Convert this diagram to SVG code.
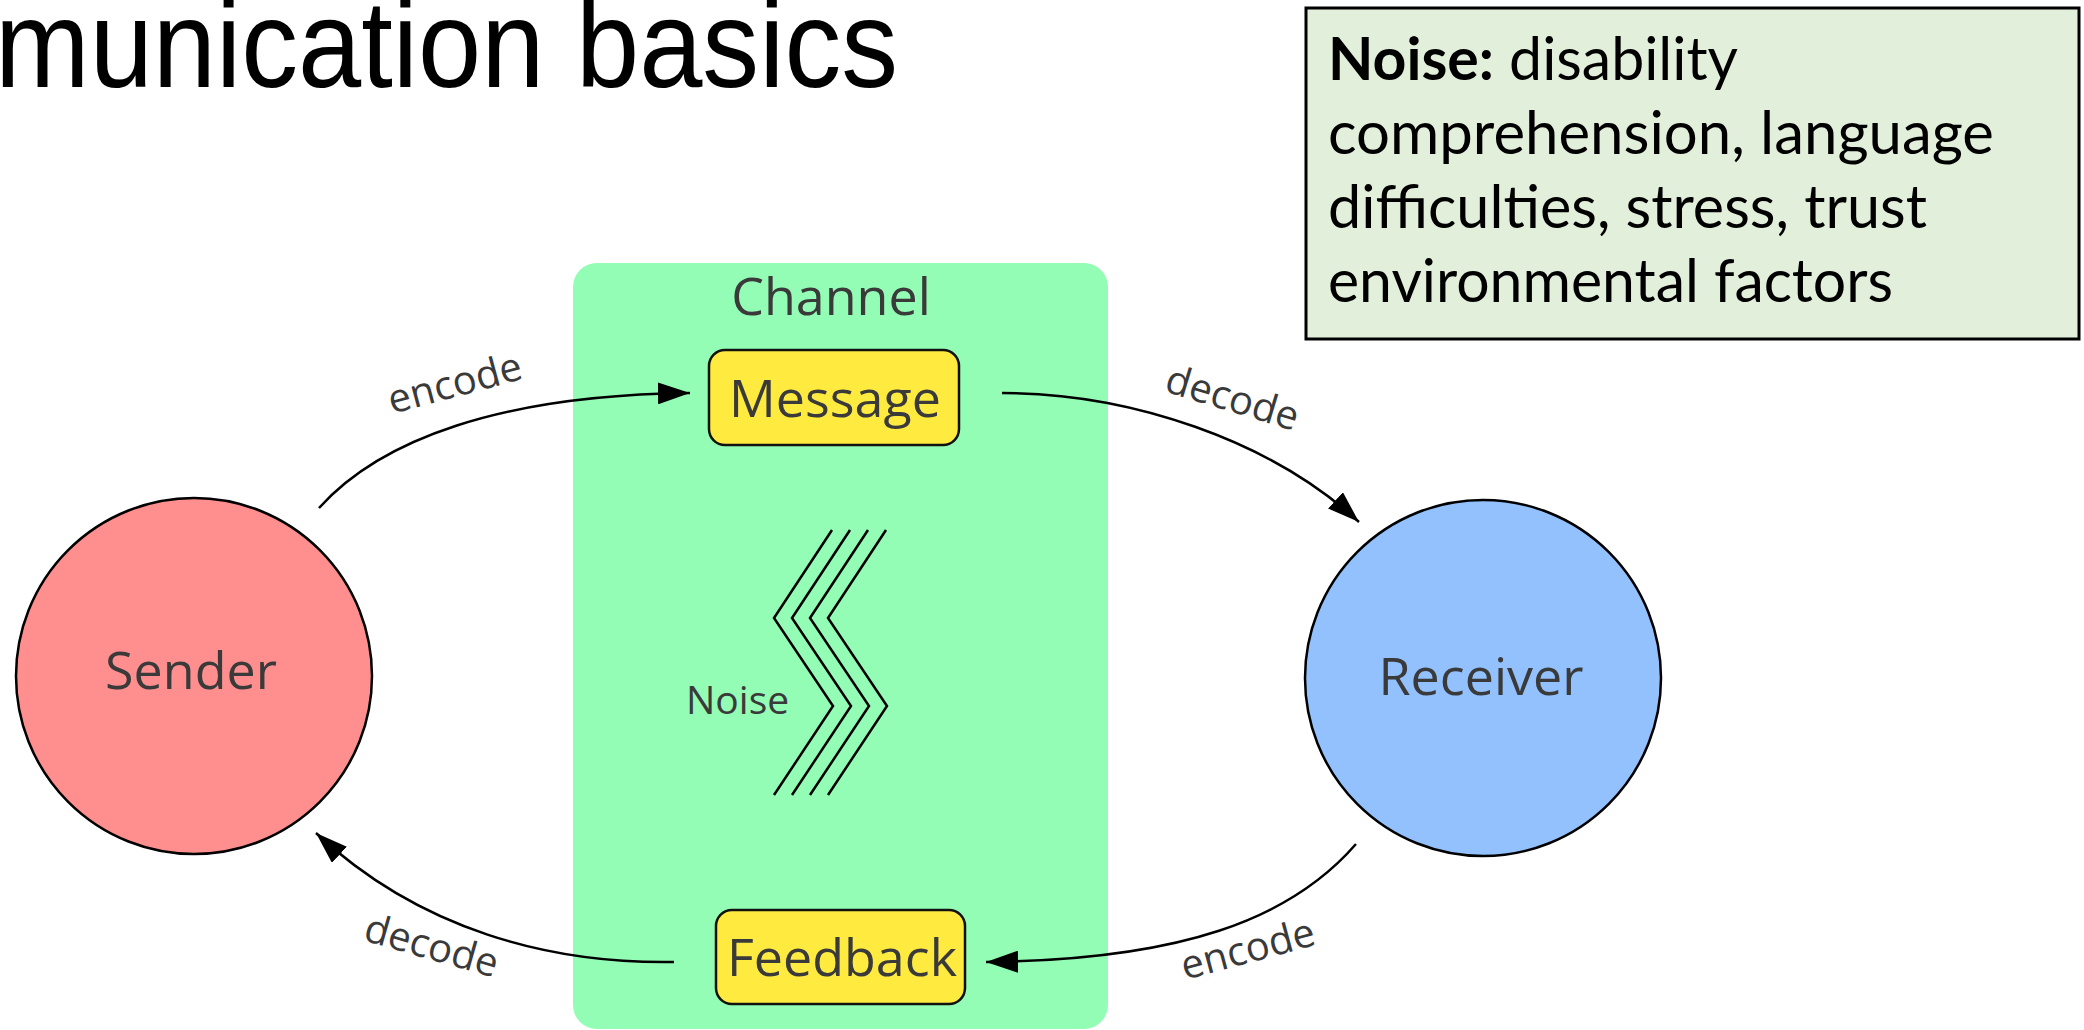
<svg xmlns="http://www.w3.org/2000/svg" width="2084" height="1030" viewBox="0 0 2084 1030">
  <defs>
    <style>
      .lbl { font-family: "Open Sans", "Noto Sans", sans-serif; fill: #3a3a3a; }
      .node-text { font-size: 52px; text-anchor: middle; }
      .edge-text { font-size: 40px; }
      .pill { fill: #ffeb3f; stroke: #111; stroke-width: 2.5; }
      .conn { fill: none; stroke: #000; stroke-width: 2.5; }
      .zig { fill: none; stroke: #000; stroke-width: 2.5; stroke-linejoin: miter; }
      .note { font-family: Lato, "Liberation Sans", sans-serif; font-size: 60px; fill: #000; }
    </style>
    <marker id="arrow" viewBox="0 0 32 22" refX="32" refY="11" markerWidth="32" markerHeight="22" markerUnits="userSpaceOnUse" orient="auto">
      <path d="M0,0 L32,11 L0,22 Z" fill="#000"/>
    </marker>
  </defs>

  <rect width="2084" height="1030" fill="#fff"/>

  <!-- slide title -->
  <text x="-5" y="87" font-family="'Liberation Sans', Arial, sans-serif" font-size="124" fill="#000" textLength="903" lengthAdjust="spacingAndGlyphs">munication basics</text>

  <!-- noise note -->
  <g id="note">
    <rect x="1306" y="8" width="773" height="331" fill="#e2efda" stroke="#000" stroke-width="3"/>
    <text class="note" x="1328" y="80" textLength="410" lengthAdjust="spacingAndGlyphs"><tspan font-weight="bold">Noise:</tspan> disability</text>
    <text class="note" x="1328" y="154" textLength="666" lengthAdjust="spacingAndGlyphs">comprehension, language</text>
    <text class="note" x="1328" y="228" textLength="599" lengthAdjust="spacingAndGlyphs">difficulties, stress, trust</text>
    <text class="note" x="1328" y="302" textLength="565" lengthAdjust="spacingAndGlyphs">environmental factors</text>
  </g>

  <!-- channel -->
  <g id="channel">
    <rect x="573" y="263" width="535" height="766" rx="24" ry="24" fill="#93fdb5"/>
    <text class="lbl node-text" x="831" y="315">Channel</text>
  </g>

  <!-- noise symbol -->
  <g id="noise">
    <polyline class="zig" points="832,530 774,618 833,706 774,795"/>
    <polyline class="zig" points="850,530 792,618 851,706 792,795"/>
    <polyline class="zig" points="868,530 810,618 869,706 810,795"/>
    <polyline class="zig" points="886,530 828,618 887,706 828,795"/>
    <text class="lbl" x="686" y="714" font-size="39">Noise</text>
  </g>

  <!-- connectors -->
  <g id="connectors">
    <path class="conn" d="M319,508 C380,440 500,395 690,393" marker-end="url(#arrow)"/>
    <path class="conn" d="M1002,393 C1130,393 1270,440 1359,522" marker-end="url(#arrow)"/>
    <path class="conn" d="M1356,844 C1290,920 1180,960 986,962" marker-end="url(#arrow)"/>
    <path class="conn" d="M674,962 C550,964 420,930 316,833" marker-end="url(#arrow)"/>
    <text class="lbl edge-text" transform="translate(392,414) rotate(-15)">encode</text>
    <text class="lbl edge-text" transform="translate(1163,391) rotate(17)">decode</text>
    <text class="lbl edge-text" transform="translate(1185,980) rotate(-15)">encode</text>
    <text class="lbl edge-text" transform="translate(362,940) rotate(16)">decode</text>
  </g>

  <g id="message">
    <rect class="pill" x="709" y="350" width="250" height="95" rx="16" ry="16"/>
    <text class="lbl node-text" x="835" y="417">Message</text>
  </g>

  <g id="feedback">
    <rect class="pill" x="716" y="910" width="249" height="94" rx="16" ry="16"/>
    <text class="lbl node-text" x="842" y="976">Feedback</text>
  </g>

  <g id="sender">
    <circle cx="194" cy="676" r="178" fill="#ff8f8f" stroke="#000" stroke-width="2.5"/>
    <text class="lbl node-text" x="191" y="689">Sender</text>
  </g>

  <g id="receiver">
    <circle cx="1483" cy="678" r="178" fill="#92c1fe" stroke="#000" stroke-width="2.5"/>
    <text class="lbl node-text" x="1481" y="695">Receiver</text>
  </g>
</svg>
